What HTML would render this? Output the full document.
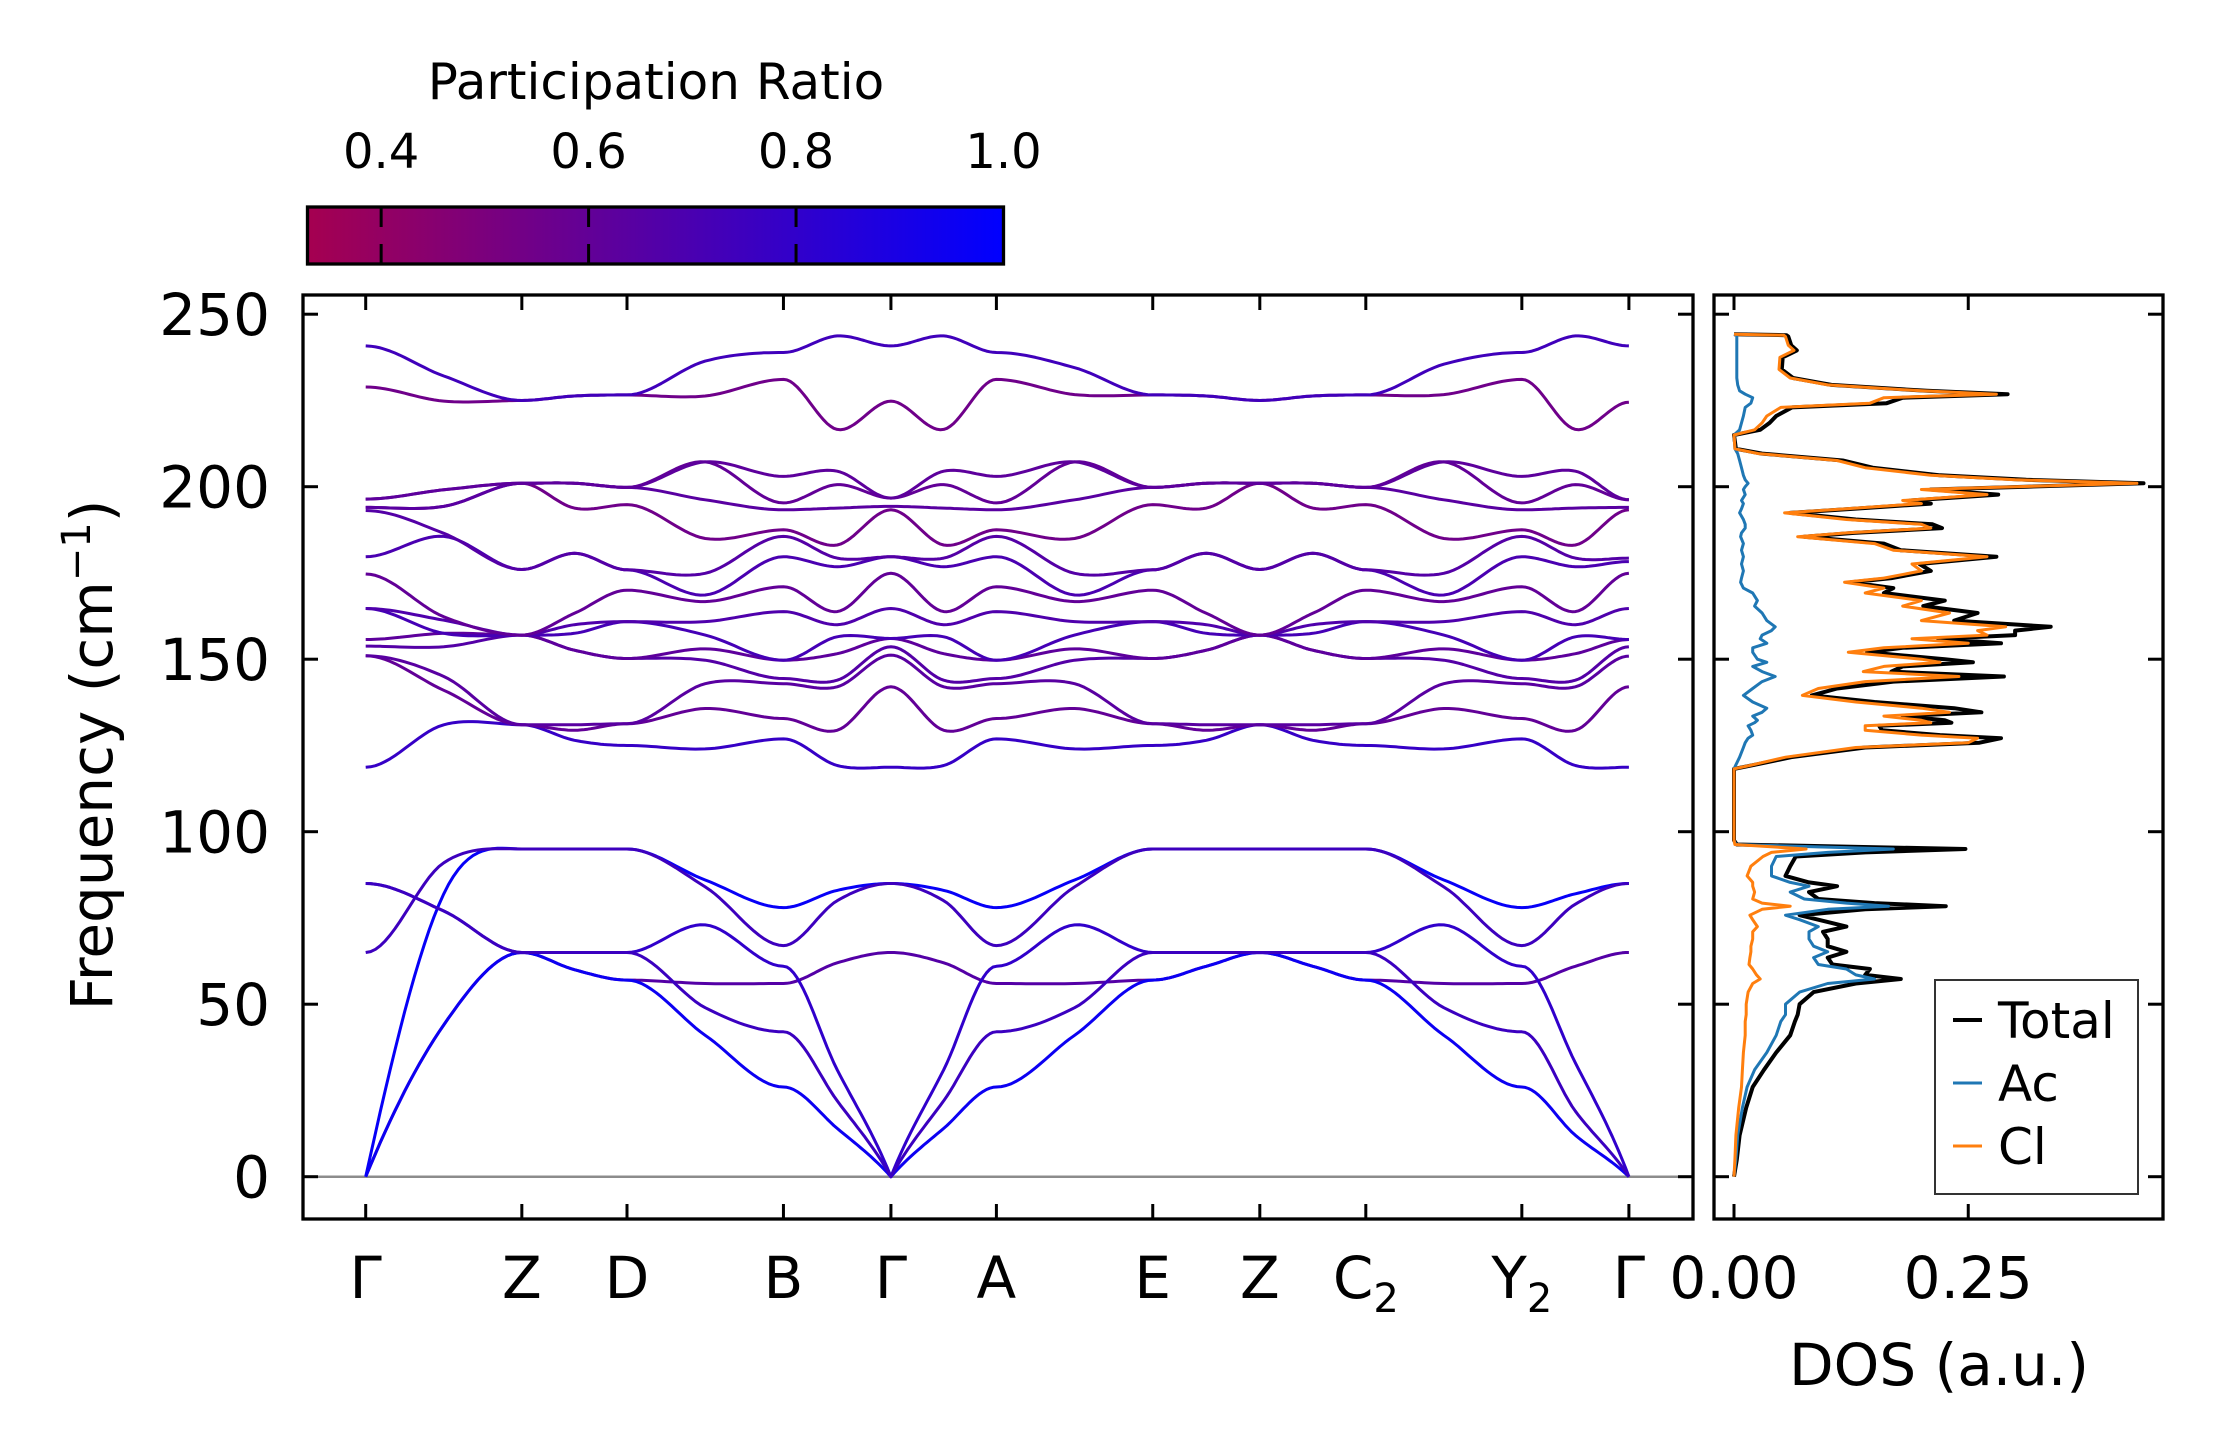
<!DOCTYPE html>
<html><head><meta charset="utf-8"><title>Phonon band structure and DOS</title>
<style>
html,body{margin:0;padding:0;background:#fff;}
svg{display:block;font-family:"DejaVu Sans","Liberation Sans",sans-serif;}
</style></head>
<body>
<svg id="chart" width="2222" height="1455" viewBox="0 0 2222 1455" xmlns="http://www.w3.org/2000/svg">
<defs>
<linearGradient id="cmap" x1="0" y1="0" x2="1" y2="0">
<stop offset="0" stop-color="rgb(165,0,80)"/>
<stop offset="1" stop-color="rgb(0,0,255)"/>
</linearGradient>
<clipPath id="mainClip"><rect x="303" y="295" width="1390" height="924"/></clipPath>
<clipPath id="dosClip"><rect x="1714" y="295" width="449" height="924"/></clipPath>
</defs>
<rect x="0" y="0" width="2222" height="1455" fill="#fff"/>

<g id="colorbar">
<text x="656" y="99" font-size="50" text-anchor="middle">Participation Ratio</text>
<rect x="307.5" y="207" width="696" height="57" fill="url(#cmap)" stroke="#000" stroke-width="3.3"/>
<g id="cbTicks"></g>
</g>

<g id="bands" clip-path="url(#mainClip)"></g>
<g id="dos" clip-path="url(#dosClip)"></g>
<g id="axes"></g>

<text transform="translate(112,755) rotate(-90)" font-size="58" text-anchor="middle">Frequency (cm<tspan dy="-22" font-size="40">−1</tspan><tspan dy="22">)</tspan></text>
<text x="1939" y="1385" font-size="58" text-anchor="middle">DOS (a.u.)</text>

<g id="legend">
<rect x="1935" y="980" width="203" height="214" fill="#fff" stroke="#333" stroke-width="2"/>
<line x1="1953" y1="1020" x2="1982" y2="1020" stroke="#000" stroke-width="4"/>
<text x="1998" y="1038" font-size="50">Total</text>
<line x1="1953" y1="1083" x2="1982" y2="1083" stroke="#1f77b4" stroke-width="3"/>
<text x="1998" y="1101" font-size="50">Ac</text>
<line x1="1953" y1="1146" x2="1982" y2="1146" stroke="#ff7f0e" stroke-width="3"/>
<text x="1998" y="1164" font-size="50">Cl</text>
</g>

<script>
// ---------- data ----------
const kDist = [0, 1.473, 2.465, 3.941, 4.955, 5.95, 7.425, 8.435, 9.435, 10.907, 11.917];
const kLabelMain = ['Γ','Z','D','B','Γ','A','E','Z','C','Y','Γ'];
const kLabelSub  = ['','','','','','','','','2','2',''];
const freqTicks = [0, 50, 100, 150, 200, 250];
const dosTicks = [0, 0.25];
const dosTickLabels = ['0.00', '0.25'];
const cbTicks = [0.4, 0.6, 0.8, 1.0];
const cbTickLabels = ['0.4', '0.6', '0.8', '1.0'];

// low-frequency bands: values at [Γ,m,Z,m,D,m,B,m,Γ,m,A,m,E,m,Z,m,C2,m,Y2,m,Γ]
const lo0 = [0,44,65,60,57,56,56,62,65,62,56,56,57,61,65,61,57,56,56,61,65];
const lo1 = [0,44,65,60,57,41,26,14,0,14,26,41,57,61,65,61,57,41,26,12,0];
const lo2 = [0,82,95,95,95,86,78,83,85,83,78,86,95,95,95,95,95,86,78,82,85];
const lo3 = [65,91,95,95,95,84,67,80,85,80,67,84,95,95,95,95,95,84,67,79,85];
const lo4 = [85,77,65,65,65,73,61,31,0,31,61,73,65,65,65,65,65,73,61,33,0];
const lo5 = [85,77,65,65,65,49,42,22,0,22,42,49,65,65,65,65,65,49,42,19,0];
const loPR = [0.66, 0.95, 0.97, 0.75, 0.8, 0.76];

// high-frequency bands: sorted frequencies at each k sample
const hiK0 = [118.7,151,151,153.8,155.7,164.7,164.7,174.7,179.7,193.1,194,194,196.4,196.4,228.9,240.8];
const hiK1 = [131,141,145,153.6,157.5,157.5,161.3,162.3,185.6,186.5,194.3,194.3,199.1,199.1,224.8,232.1];
const hiK2 = [131,131,131,157,157,157,157,157,176,176,201,201,201,201,225,225];
const hiK3 = [126.5,129.4,131,152.6,152.6,157.5,160,163.3,180.7,180.7,193.8,201,201,201,226.3,226.3];
const hiK4 = [125,131.3,131.3,150.2,150.2,160.9,160.9,170,175.9,175.9,194.8,199.8,199.8,199.8,226.6,226.6];
const hiK5 = [124,135.7,142.9,149.7,153,157,160.9,166.7,168.6,174.9,185,196.2,207.2,207.2,226.3,236.4];
const hiK6 = [126.9,132.8,142.9,144.4,149.7,149.7,163.8,171,179.7,185.6,187.5,193.3,195.3,203,231.1,238.9];
const hiK7 = [119.2,129.4,142,143.9,151.6,156.5,160,163.8,176.8,179.3,183.1,193.8,200.6,204.5,216.6,243.7];
const hiK8 = [118.7,142,151.2,153.6,156,156,164.7,174.9,179.7,179.7,193.3,194.3,196.7,196.7,224.8,240.8];
const hiK11 = [124,135.7,142.9,149.7,153,157,160.9,166.7,168.6,174.9,185,196.2,207.2,207.2,226.7,234.5];
const hiK17 = [124,135.7,142.9,149.7,153,157,160.9,166.7,168.6,174.9,185,196.2,207.2,207.2,226.7,235.5];
const hiK20 = [118.7,142,150.9,153.6,155.7,155.7,164.7,174.9,178.3,179.3,193.3,194,196.2,196.2,224.5,240.8];
const hiPath = [hiK0,hiK1,hiK2,hiK3,hiK4,hiK5,hiK6,hiK7,hiK8,hiK7,hiK6,hiK11,hiK4,hiK3,hiK2,hiK3,hiK4,hiK17,hiK6,hiK7,hiK20];
const hiPR = [0.78,0.6,0.64,0.66,0.62,0.72,0.68,0.6,0.7,0.66,0.55,0.64,0.6,0.62,0.55,0.74];

// DOS
const dosFreq = [244.2,243.9,243.5,241,239.5,237.5,234,231.5,229.5,227.8,226.8,225.8,224.2,223,220.5,218.5,216.5,215,211,209.6,
207.6,205.5,203.3,202,201,200,199.2,197.7,196,195.1,193.6,192.4,190.5,189.1,188,186.6,185.5,183.5,181.6,179.7,
177.6,175.6,173.5,172.3,170.6,169.2,167,165.4,163.4,161.2,159.4,158.3,157,155.9,154.6,153.3,152,150,149.1,147.9,
146.4,145,143.5,141.5,139.5,137.6,135.8,134.6,133.5,132.3,131.6,130.7,129.4,128,127.1,125.8,124.4,121.6,119.4,118.2,
97.5,96.3,95.0,94,92.8,90,87.2,85.3,84.2,82.5,80.5,79.3,78.4,77.5,75.8,74.5,72.5,71,68.9,66.8,65.2,63.5,61.5,60.2,58.5,57.3,56,53.5,50,47,45,41,36,31,26,20,12,5,0];
const dosCl = [0,.053,.055,.058,.064,.049,.048,.06,.10,.20,.28,.16,.145,.05,.035,.03,.022,0,.001,.026,
.11,.14,.21,.3,.43,.3,.2,.27,.18,.2,.12,.054,.12,.2,.21,.12,.068,.15,.17,.27,
.19,.2,.16,.118,.16,.14,.2,.18,.23,.2,.29,.26,.27,.19,.25,.16,.122,.2,.22,.16,
.138,.24,.14,.09,.073,.13,.2,.23,.16,.2,.21,.14,.14,.2,.26,.25,.13,.055,.02,0,
0,.001,.077,.04,.031,.018,.014,.02,.02,.022,.02,.03,.06,.03,.017,.02,.025,.02,.02,.018,.018,.017,.016,.02,.024,.028,.02,.015,.013,.013,.012,.012,.01,.009,.008,.005,.002,.001,0];
const dosAc = [0,.003,.003,.003,.003,.003,.003,.003,.004,.006,.012,.02,.018,.012,.01,.008,.006,0,.001,.004,
.006,.008,.01,.012,.015,.012,.01,.012,.008,.01,.008,.006,.01,.012,.012,.008,.007,.01,.008,.01,
.008,.01,.008,.007,.01,.02,.025,.022,.03,.035,.044,.04,.03,.028,.035,.02,.02,.025,.035,.02,
.03,.044,.03,.02,.01,.02,.035,.03,.02,.025,.022,.015,.018,.02,.015,.012,.01,.006,.002,0,
0,.002,.17,.1,.045,.04,.04,.06,.08,.06,.075,.12,.165,.1,.055,.07,.09,.08,.08,.085,.1,.085,.09,.12,.13,.15,.1,.07,.055,.055,.05,.045,.035,.022,.014,.009,.004,.002,0];
const dosTotal = [0,.056,.058,.061,.067,.052,.051,.063,.104,.206,.292,.18,.163,.062,.045,.038,.028,0,.002,.03,
.116,.148,.22,.312,.437,.312,.21,.282,.188,.21,.128,.06,.13,.212,.222,.128,.075,.16,.178,.28,
.198,.21,.168,.125,.17,.16,.225,.202,.26,.235,.338,.3,.3,.218,.285,.18,.142,.225,.255,.18,
.168,.288,.17,.11,.083,.15,.235,.264,.18,.225,.232,.155,.158,.22,.285,.262,.14,.061,.022,0,
0,.003,.247,.14,.066,.06,.055,.08,.11,.08,.09,.15,.226,.14,.07,.09,.12,.095,.1,.1,.12,.1,.105,.145,.14,.178,.13,.085,.07,.068,.065,.06,.045,.032,.02,.013,.006,.003,0];

// ---------- scales ----------
const NS = 'http://www.w3.org/2000/svg';
const xK = d => 365.7 + d * 106.0;
const yF = f => 1176.7 - f * 3.45;
const xD = v => 1734 + v * 937;
const cbMin = 0.329, cbMax = 1.0;
const xCb = v => 307.5 + (v - cbMin) / (cbMax - cbMin) * 696;
function prColor(p){
  const t = Math.max(0, Math.min(1, (p - cbMin) / (cbMax - cbMin)));
  return 'rgb(' + Math.round(165*(1-t)) + ',0,' + Math.round(80 + 175*t) + ')';
}
function mk(tag, attrs, parent){
  const e = document.createElementNS(NS, tag);
  for (const k in attrs) e.setAttribute(k, attrs[k]);
  parent.appendChild(e);
  return e;
}

// ---------- band path builder (hermite within each segment) ----------
function bandPath(vals){
  let d = '';
  for (let s = 0; s < kDist.length - 1; s++){
    const v0 = vals[2*s], v1 = vals[2*s+1], v2 = vals[2*s+2];
    const xa = kDist[s], xb = kDist[s+1];
    const mMid = (v2 - v0) / 2;
    const m0 = (v0 < 1) ? (v1 - v0) * 1.25 : 0;
    const m2 = (v2 < 1) ? (v2 - v1) * 1.25 : 0;
    const halves = [[v0, v1, m0, mMid, 0], [v1, v2, mMid, m2, 0.5]];
    for (const [p0, p1, t0, t1, off] of halves){
      for (let i = 0; i <= 16; i++){
        if (off > 0 && i === 0) continue;
        const u = i / 16, u2 = u*u, u3 = u2*u;
        const val = (2*u3-3*u2+1)*p0 + (u3-2*u2+u)*t0 + (-2*u3+3*u2)*p1 + (u3-u2)*t1;
        const dd = xa + (xb - xa) * (off + u/2);
        d += (d === '' ? 'M' : 'L') + xK(dd).toFixed(1) + ',' + yF(val).toFixed(1);
      }
    }
  }
  return d;
}

const bandsG = document.getElementById('bands');
const zl = mk('line', {x1:303, x2:1693, y1:yF(0), y2:yF(0), stroke:'#8c8c8c', 'stroke-width':2.5}, bandsG);



const loBands = [lo0, lo1, lo2, lo3, lo4, lo5];
loBands.forEach((b, i) => {
  const p = mk('path', {d: bandPath(b), fill:'none', stroke: prColor(loPR[i]), 'stroke-width':3, 'stroke-linejoin':'round'}, bandsG);
  
  
});
for (let j = 0; j < hiK0.length; j++){
  const vals = hiPath.map(k => k[j]);
  const p = mk('path', {d: bandPath(vals), fill:'none', stroke: prColor(hiPR[j]), 'stroke-width':3, 'stroke-linejoin':'round'}, bandsG);
  
  
}

// ---------- DOS ----------
const dosG = document.getElementById('dos');
function dosLine(vals, color, w, name){
  let d = '';
  dosFreq.forEach((f, i) => { d += (i ? 'L' : 'M') + xD(vals[i]).toFixed(1) + ',' + yF(f).toFixed(1); });
  const p = mk('path', {d: d, fill:'none', stroke: color, 'stroke-width': w, 'stroke-linejoin':'round'}, dosG);
  
  
}
dosLine(dosTotal, '#000', 4, 'dos-total-line');
dosLine(dosAc, '#1f77b4', 3, 'dos-ac-line');
dosLine(dosCl, '#ff7f0e', 3, 'dos-cl-line');

// ---------- axes ----------
const ax = document.getElementById('axes');
const fr1 = mk('rect', {x:303, y:295, width:1390, height:924, fill:'none', stroke:'#000', 'stroke-width':3.3}, ax);


const fr2 = mk('rect', {x:1714, y:295, width:449, height:924, fill:'none', stroke:'#000', 'stroke-width':3.3}, ax);



freqTicks.forEach(f => {
  const y = yF(f);
  [[303, 318], [1693, 1678], [1714, 1729], [2163, 2148]].forEach(([a, b]) => {
    const t = mk('line', {x1:a, x2:b, y1:y, y2:y, stroke:'#000', 'stroke-width':3}, ax);
    
    
  });
  const lab = mk('text', {x:270, y:y + 21, 'font-size':58, 'text-anchor':'end'}, ax);
  lab.textContent = String(f);
  
  
});

kDist.forEach((d, i) => {
  const x = xK(d);
  [[1219, 1204], [295, 310]].forEach(([a, b]) => {
    const t = mk('line', {x1:x, x2:x, y1:a, y2:b, stroke:'#000', 'stroke-width':3}, ax);
    
    
  });
  const lab = mk('text', {x:x, y:1298, 'font-size':58, 'text-anchor':'middle'}, ax);
  lab.textContent = kLabelMain[i];
  if (kLabelSub[i]){
    const ts = mk('tspan', {dy:14, 'font-size':40}, lab);
    ts.textContent = kLabelSub[i];
  }
  
  
});

dosTicks.forEach((v, i) => {
  const x = xD(v);
  [[1219, 1204], [295, 310]].forEach(([a, b]) => {
    const t = mk('line', {x1:x, x2:x, y1:a, y2:b, stroke:'#000', 'stroke-width':3}, ax);
    
    
  });
  const lab = mk('text', {x:x, y:1298, 'font-size':58, 'text-anchor':'middle'}, ax);
  lab.textContent = dosTickLabels[i];
  
  
});

// ---------- colorbar ticks ----------
const cbG = document.getElementById('cbTicks');
cbTicks.forEach((v, i) => {
  const x = xCb(v);
  if (v < cbMax - 1e-6){
    [[207, 227], [264, 244]].forEach(([a, b]) => {
      const t = mk('line', {x1:x, x2:x, y1:a, y2:b, stroke:'#000', 'stroke-width':3}, cbG);
      
      
    });
  }
  const lab = mk('text', {x:x, y:168, 'font-size':48, 'text-anchor':'middle'}, cbG);
  lab.textContent = cbTickLabels[i];
  
  
});
</script>
</svg>
</body></html>
